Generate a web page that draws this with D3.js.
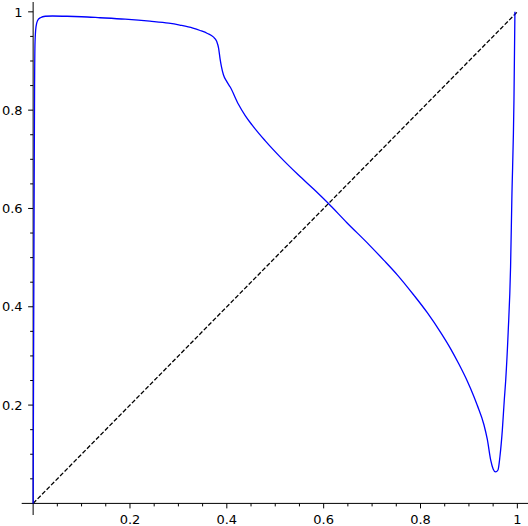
<!DOCTYPE html>
<html>
<head>
<meta charset="utf-8">
<script src="https://cdn.jsdelivr.net/npm/d3@7"></script>
<style>
  body { margin: 0; background: #fff; }
  svg { display: block; }
  text { font-family: "DejaVu Sans", sans-serif; font-size: 13px; fill: #000; }
</style>
</head>
<body>
<svg></svg>
<script>
const W = 528, H = 526

// blue curve
const curveX = [0, 0.001, 0.002, 0.003, 0.004, 0.006, 0.009, 0.015, 0.025, 0.04,
    0.07, 0.1, 0.138, 0.19, 0.241, 0.28, 0.303, 0.33, 0.345, 0.36,
    0.372, 0.379, 0.383, 0.386, 0.389, 0.393, 0.4, 0.407, 0.424, 0.438,
    0.452, 0.479, 0.51, 0.548, 0.583, 0.61, 0.648, 0.693, 0.724, 0.752,
    0.786, 0.814, 0.8415, 0.862, 0.879, 0.897, 0.91, 0.917, 0.931, 0.938,
    0.945, 0.95, 0.955, 0.96, 0.964, 0.969, 0.973, 0.976, 0.981, 0.986,
    0.9886, 0.993, 0.995]
const curveY = [0, 0.3, 0.6, 0.85, 0.94, 0.97, 0.982, 0.988, 0.991, 0.9915,
    0.991, 0.99, 0.988, 0.985, 0.981, 0.977, 0.973, 0.967, 0.962, 0.956,
    0.949, 0.94, 0.926, 0.905, 0.888, 0.872, 0.858, 0.847, 0.812, 0.789,
    0.77, 0.738, 0.705, 0.668, 0.636, 0.61, 0.571, 0.527, 0.495, 0.465,
    0.424, 0.388, 0.348, 0.315, 0.284, 0.248, 0.218, 0.2, 0.16, 0.13,
    0.088, 0.07, 0.064, 0.068, 0.095, 0.149, 0.21, 0.251, 0.347, 0.481,
    0.617, 0.82, 1.0]
// dashed diagonal
const diagX = [0, 1]
const diagY = [0, 1]

const majorTicks = [0.2, 0.4, 0.6, 0.8, 1]
const minorTicks = d3.range(1, 21).map(i => i * 0.05).filter(v => majorTicks.every(m => Math.abs(m - v) > 1e-9))

const x = d3.scaleLinear().domain([-0.0236, 1.022]).range([21.7, 528])
const y = d3.scaleLinear().domain([-0.0236, 1.02]).range([515, 2])

const svg = d3.select('svg')
    .attr('width', W)
    .attr('height', H)

const fmt = d => d === 1 ? '1' : d3.format('.1f')(d)

// x axis, drawn through y = 0
const xAxis = svg.append('g')
    .attr('transform', `translate(0,${y(0)})`)
xAxis.append('line')
    .attr('x1', x.range()[0]).attr('x2', x.range()[1])
    .attr('stroke', '#000').attr('stroke-width', 1)
xAxis.selectAll('.minor')
    .data(minorTicks)
    .enter().append('line')
    .attr('x1', d => x(d)).attr('x2', d => x(d))
    .attr('y1', 0).attr('y2', 3)
    .attr('stroke', '#000')
xAxis.selectAll('.major')
    .data(majorTicks)
    .enter().append('line')
    .attr('x1', d => x(d)).attr('x2', d => x(d))
    .attr('y1', 0).attr('y2', 5)
    .attr('stroke', '#000')
xAxis.selectAll('text')
    .data(majorTicks)
    .enter().append('text')
    .attr('x', d => x(d))
    .attr('y', 21)
    .attr('text-anchor', 'middle')
    .text(fmt)

// y axis, drawn through x = 0
const yAxis = svg.append('g')
    .attr('transform', `translate(${x(0)},0)`)
yAxis.append('line')
    .attr('y1', y.range()[0]).attr('y2', y.range()[1])
    .attr('stroke', '#000').attr('stroke-width', 1)
yAxis.selectAll('.minor')
    .data(minorTicks)
    .enter().append('line')
    .attr('y1', d => y(d)).attr('y2', d => y(d))
    .attr('x1', 0).attr('x2', -3)
    .attr('stroke', '#000')
yAxis.selectAll('.major')
    .data(majorTicks)
    .enter().append('line')
    .attr('y1', d => y(d)).attr('y2', d => y(d))
    .attr('x1', 0).attr('x2', -5)
    .attr('stroke', '#000')
yAxis.selectAll('text')
    .data(majorTicks)
    .enter().append('text')
    .attr('x', -10.5)
    .attr('y', d => y(d))
    .attr('dy', '0.36em')
    .attr('text-anchor', 'end')
    .text(fmt)

const line = d3.line()
    .x(d => x(d[0]))
    .y(d => y(d[1]))

svg.append('path')
    .datum(diagX.map((v, i) => [v, diagY[i]]))
    .attr('d', line)
    .attr('fill', 'none')
    .attr('stroke', '#000')
    .attr('stroke-width', 1.3)
    .attr('stroke-dasharray', '4.4,2')

svg.append('path')
    .datum(curveX.map((v, i) => [v, curveY[i]]))
    .attr('d', line.curve(d3.curveMonotoneX))
    .attr('fill', 'none')
    .attr('stroke', '#0000ff')
    .attr('stroke-width', 1.3)
</script>
</body>
</html>
